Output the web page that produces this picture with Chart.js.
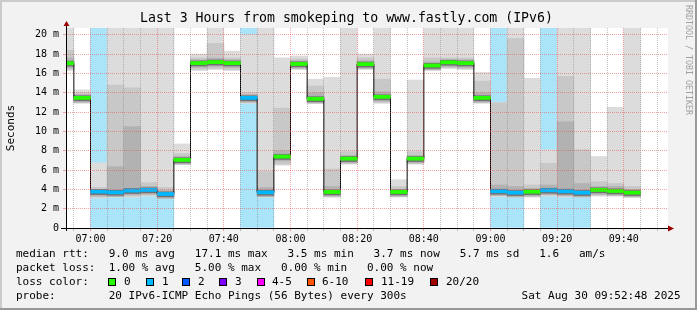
<!DOCTYPE html>
<html>
<head>
<meta charset="utf-8">
<script src="https://cdn.jsdelivr.net/npm/chart.js@4/dist/chart.umd.min.js"></script>
<style>
    html, body { margin: 0; padding: 0; background: #f2f2f2; }
    canvas { display: block; }
</style>
</head>
<body>
<canvas id="chart" width="697" height="310"></canvas>
<script>
// 5 minute slots (start time of each slot)
const slots = ['06:50', '06:55', '07:00', '07:05', '07:10', '07:15', '07:20', '07:25', '07:30', '07:35',
    '07:40', '07:45', '07:50', '07:55', '08:00', '08:05', '08:10', '08:15', '08:20', '08:25',
    '08:30', '08:35', '08:40', '08:45', '08:50', '08:55', '09:00', '09:05', '09:10', '09:15',
    '09:20', '09:25', '09:30', '09:35', '09:40'];

// smoke, in ms
const smokeMax = [21, 14.3, 6.75, 21, 21, 21, 21, 8.7, 18.0, 21,
    18.3, 20.0, 21, 17.6, 17.8, 15.4, 15.6, 21, 18.0, 21,
    5.0, 15.3, 21, 21, 21, 16.1, 13.0, 21, 15.5, 8.1,
    21, 21, 7.4, 12.5, 21];
const smokeHigh = [18.4, 14.0, 4.2, 14.8, 14.5, 4.7, 4.2, 7.7, 17.6, 19.1,
    17.6, 14.0, 5.85, 12.4, 17.5, 14.7, 6.1, 7.9, 17.6, 15.4,
    4.3, 7.9, 17.6, 17.6, 17.6, 15.2, 12.95, 19.6, 4.45, 6.7,
    15.7, 8.1, 4.8, 4.6, 4.3];
const smokeMid = [17.6, 13.8, 4.0, 6.35, 10.5, 4.3, 3.9, 7.4, 17.4, 17.6,
    17.4, 13.8, 4.2, 8.0, 17.3, 14.0, 4.3, 7.5, 17.3, 14.1,
    4.0, 7.5, 17.2, 17.4, 17.4, 14.0, 4.45, 4.3, 4.1, 4.45,
    11.0, 4.6, 4.3, 4.3, 4.0];
const medianRtt = [17.05, 13.47, 3.76, 3.69, 3.87, 3.94, 3.52, 7.05, 17.07, 17.17,
    17.07, 13.47, 3.69, 7.39, 16.98, 13.37, 3.73, 7.18, 16.96, 13.57,
    3.73, 7.18, 16.82, 17.15, 17.07, 13.47, 3.8, 3.66, 3.75, 3.9,
    3.8, 3.66, 3.94, 3.83, 3.66];
const smokeMin = [16.3, 12.9, 3.1, 3.2, 3.2, 3.3, 3.1, 6.6, 16.3, 16.4,
    16.3, 12.9, 3.2, 6.5, 16.4, 12.9, 3.2, 6.6, 16.4, 12.9,
    3.2, 6.6, 16.3, 16.5, 16.4, 12.9, 3.25, 3.2, 3.2, 3.3,
    3.2, 3.2, 3.3, 3.3, 3.2];
// lost pings out of 20
const lossCount = [0, 0, 1, 1, 1, 1, 1, 0, 0, 0,
    0, 1, 1, 0, 0, 0, 0, 0, 0, 0,
    0, 0, 0, 0, 0, 0, 1, 1, 0, 1,
    1, 1, 0, 0, 0];

const lossLabels = ['0', '1', '2', '3', '4-5', '6-10', '11-19', '20/20'];
const lossColors = ['#26ff00', '#00b8ff', '#0059ff', '#7e00ff', '#ff00ff', '#ff5500', '#ff0000', '#a10000'];
const lossBoxX = [108, 146, 182, 219, 257, 307, 365, 430];
const lossTextX = [124, 162, 198, 235, 272, 322, 381, 446];

const legendRows = [
    'median rtt:   9.0 ms avg   17.1 ms max   3.5 ms min   3.7 ms now   5.7 ms sd   1.6   am/s',
    'packet loss:  1.00 % avg   5.00 % max   0.00 % min   0.00 % now',
    'loss color:',
    'probe:        20 IPv6-ICMP Echo Pings (56 Bytes) every 300s'
];
const rowY = [254, 268.5, 282, 296];
const stamp = 'Sat Aug 30 09:52:48 2025';

const MONO = '"DejaVu Sans Mono", monospace';
const X_MIN = 52.65;   // 06:52:39
const X_MAX = 233.25;  // 09:53:15
const Y_MAX = 20.7;

const toMin = (s) => {
    const [h, m] = s.split(':').map(Number);
    return (h - 6) * 60 + m;
};
const fmtMin = (v) => {
    const h = 6 + Math.floor(v / 60);
    const m = v % 60;
    return `${String(h).padStart(2, '0')}:${String(m).padStart(2, '0')}`;
};

const mid = slots.map(s => toMin(s) + 2.5);

const barSet = (label, order, color, lo, hi, keep) => ({
    type: 'bar',
    label: label,
    order: order,
    grouped: false,
    barPercentage: 1,
    categoryPercentage: 1,
    borderWidth: 0,
    clip: 0,
    backgroundColor: color,
    data: slots.map((s, i) => ({ x: mid[i], y: [lo(i), hi(i)] })).filter((d, i) => !keep || keep(i))
});

const medianColors = lossCount.map(n => lossColors[Math.min(n, 1)]);

// black step line through the medians
const stepData = slots.map((s, i) => ({ x: toMin(s), y: medianRtt[i] }));
stepData.push({ x: toMin(slots[slots.length - 1]) + 5, y: medianRtt[medianRtt.length - 1] });

const datasets = [
    barSet('loss', 6, '#aae4f9', () => 0, () => 21, i => lossCount[i] > 0),
    barSet('smoke1', 5, '#dcdcdc', i => smokeMin[i], i => smokeMax[i]),
    barSet('smoke2', 4, '#c8c8c8', i => smokeMin[i] + 0.1, i => smokeHigh[i]),
    barSet('smoke3', 3, '#b2b2b2', i => medianRtt[i] - 0.45, i => smokeMid[i]),
    barSet('smoke4', 2, '#707070', i => medianRtt[i] - 0.3, i => medianRtt[i] + 0.22),
    {
        type: 'line',
        label: 'step',
        order: 1,
        data: stepData,
        stepped: 'before',
        borderColor: '#000000',
        borderWidth: 1,
        pointRadius: 0,
        clip: 0
    },
    barSet('median', 0, medianColors, i => medianRtt[i] - 0.16, i => medianRtt[i] + 0.16)
];

const MAJOR = 'rgba(235, 70, 70, 0.5)';
const MINOR = 'rgba(120, 120, 120, 0.45)';

const framePlugin = {
    id: 'frame',
    beforeDraw(chart) {
        const { ctx, chartArea: a } = chart;
        ctx.save();
        ctx.fillStyle = '#f2f2f2';
        ctx.fillRect(0, 0, chart.width, chart.height);
        ctx.fillStyle = '#ffffff';
        ctx.fillRect(a.left, a.top, a.right - a.left, a.bottom - a.top);
        ctx.restore();
    },
    afterDraw(chart) {
        const { ctx, chartArea: a } = chart;
        ctx.save();

        // axes
        ctx.strokeStyle = '#000';
        ctx.lineWidth = 1;
        ctx.beginPath();
        ctx.moveTo(a.left - 5, a.bottom + 0.5);
        ctx.lineTo(a.right, a.bottom + 0.5);
        ctx.moveTo(a.left + 0.5, a.bottom + 3);
        ctx.lineTo(a.left + 0.5, a.top - 3);
        ctx.stroke();
        ctx.fillStyle = '#9a0000';
        ctx.beginPath();
        ctx.moveTo(a.right, a.bottom - 2.5);
        ctx.lineTo(a.right + 6, a.bottom + 0.5);
        ctx.lineTo(a.right, a.bottom + 3.5);
        ctx.fill();
        ctx.beginPath();
        ctx.moveTo(a.left - 2.5, a.top - 2);
        ctx.lineTo(a.left + 0.5, a.top - 7);
        ctx.lineTo(a.left + 3.5, a.top - 2);
        ctx.fill();

        // title
        ctx.fillStyle = '#000';
        ctx.textBaseline = 'middle';
        ctx.textAlign = 'left';
        ctx.font = `13.2px ${MONO}`;
        ctx.fillText('Last 3 Hours from smokeping to www.fastly.com (IPv6)', 140, 19);

        // y title
        ctx.font = `11px ${MONO}`;
        ctx.save();
        ctx.translate(11, (a.top + a.bottom) / 2);
        ctx.rotate(-Math.PI / 2);
        ctx.textAlign = 'center';
        ctx.fillText('Seconds', 0, 0);
        ctx.restore();

        // legend rows
        legendRows.forEach((t, r) => ctx.fillText(t, 16, rowY[r]));
        lossLabels.forEach((lbl, i) => {
            ctx.fillStyle = lossColors[i];
            ctx.fillRect(lossBoxX[i] + 0.5, rowY[2] - 3.5, 7, 7);
            ctx.strokeStyle = '#000';
            ctx.strokeRect(lossBoxX[i] + 0.5, rowY[2] - 3.5, 7, 7);
            ctx.fillStyle = '#000';
            ctx.fillText(lbl, lossTextX[i], rowY[2]);
        });
        ctx.textAlign = 'right';
        ctx.fillText(stamp, 680.5, rowY[3]);

        // watermark
        ctx.save();
        ctx.translate(688, 5);
        ctx.rotate(Math.PI / 2);
        ctx.textAlign = 'left';
        ctx.fillStyle = '#a0a0a0';
        ctx.font = `8.3px ${MONO}`;
        ctx.fillText('RRDTOOL / TOBI OETIKER', 0, 0);
        ctx.restore();

        // frame
        ctx.fillStyle = '#cbcbcb';
        ctx.fillRect(0, 0, chart.width, 2);
        ctx.fillRect(0, 0, 2, chart.height);
        ctx.fillStyle = '#999999';
        ctx.fillRect(0, chart.height - 2, chart.width, 2);
        ctx.fillRect(chart.width - 2, 0, 2, chart.height);
        ctx.restore();
    }
};

Chart.defaults.color = '#000';
Chart.defaults.font.family = MONO;

new Chart(document.getElementById('chart'), {
    type: 'bar',
    data: { datasets: datasets },
    options: {
        responsive: false,
        animation: false,
        devicePixelRatio: 1,
        layout: { padding: { left: 0, top: 28, right: 29, bottom: 62 } },
        plugins: { legend: { display: false }, tooltip: { enabled: false } },
        scales: {
            x: {
                type: 'linear',
                min: X_MIN,
                max: X_MAX,
                offset: false,
                afterBuildTicks: (axis) => {
                    const ticks = [];
                    for (let v = 55; v <= 230; v += 5) ticks.push({ value: v });
                    axis.ticks = ticks;
                },
                afterFit: (axis) => { axis.height = 20; },
                ticks: {
                    autoSkip: false,
                    maxRotation: 0,
                    minRotation: 0,
                    padding: 2,
                    font: { size: 10 },
                    callback: (v) => (v % 20 === 0 ? fmtMin(v) : '')
                },
                grid: {
                    z: 1,
                    offset: false,
                    tickLength: 3,
                    color: (c) => (c.tick && c.tick.value % 20 === 0 ? MAJOR : MINOR)
                },
                border: { display: false, dash: [1, 1] }
            },
            y: {
                min: 0,
                max: Y_MAX,
                afterBuildTicks: (axis) => {
                    const ticks = [];
                    for (let v = 0; v <= 20; v++) ticks.push({ value: v });
                    axis.ticks = ticks;
                },
                afterFit: (axis) => { axis.width = 66; },
                ticks: {
                    padding: 4,
                    font: { size: 10 },
                    callback: (v) => (v === 0 ? '0' : (v % 2 === 0 ? `${v} m` : ''))
                },
                grid: {
                    z: 1,
                    tickLength: 3,
                    color: (c) => (c.tick && c.tick.value % 2 === 0 ? MAJOR : MINOR)
                },
                border: { display: false, dash: [1, 1] }
            }
        }
    },
    plugins: [framePlugin]
});
</script>
</body>
</html>
